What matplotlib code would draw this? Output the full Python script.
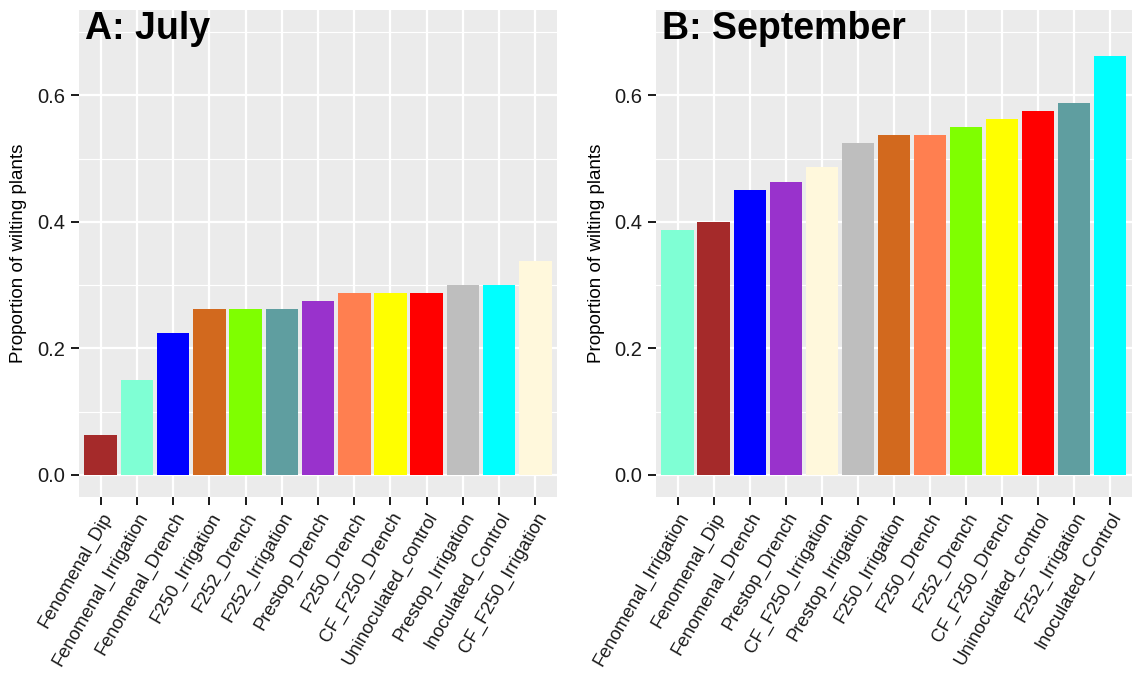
import matplotlib
matplotlib.use('Agg')
import matplotlib.pyplot as plt
import numpy as np

plt.rcParams['font.family'] = ['Liberation Sans', 'DejaVu Sans']

# July
july_names = ['Fenomenal_Dip', 'Fenomenal_Irrigation', 'Fenomenal_Drench', 'F250_Irrigation',
              'F252_Drench', 'F252_Irrigation', 'Prestop_Drench', 'F250_Drench', 'CF_F250_Drench',
              'Uninoculated_control', 'Prestop_Irrigation', 'Inoculated_Control', 'CF_F250_Irrigation']
july_vals = [0.0625, 0.15, 0.225, 0.2625, 0.2625, 0.2625, 0.275, 0.2875, 0.2875,
             0.2875, 0.3, 0.3, 0.3375]

# September
sept_names = ['Fenomenal_Irrigation', 'Fenomenal_Dip', 'Fenomenal_Drench', 'Prestop_Drench',
              'CF_F250_Irrigation', 'Prestop_Irrigation', 'F250_Irrigation', 'F250_Drench',
              'F252_Drench', 'CF_F250_Drench', 'Uninoculated_control', 'F252_Irrigation',
              'Inoculated_Control']
sept_vals = [0.3875, 0.4, 0.45, 0.4625, 0.4875, 0.525, 0.5375, 0.5375,
             0.55, 0.5625, 0.575, 0.5875, 0.6625]

colors = {
    'Fenomenal_Dip': '#A52A2A',
    'Fenomenal_Irrigation': '#7FFFD4',
    'Fenomenal_Drench': '#0000FF',
    'F250_Irrigation': '#D2691E',
    'F252_Drench': '#7FFF00',
    'F252_Irrigation': '#5F9EA0',
    'Prestop_Drench': '#9932CC',
    'F250_Drench': '#FF7F50',
    'CF_F250_Drench': '#FFFF00',
    'Uninoculated_control': '#FF0000',
    'Prestop_Irrigation': '#BEBEBE',
    'Inoculated_Control': '#00FFFF',
    'CF_F250_Irrigation': '#FFF8DC',
}

fig = plt.figure(figsize=(11.34, 6.75), dpi=100)
axA = fig.add_axes([0.0697, 0.2637, 0.4215, 0.7215])
axB = fig.add_axes([0.5785, 0.2637, 0.4195, 0.7215])


def panel(ax, names, vals, title):
    x = np.arange(len(names))
    ax.set_facecolor('#EBEBEB')
    for y in [0.1, 0.3, 0.5, 0.7]:
        ax.axhline(y, color='white', lw=0.8, zorder=0)
    for y in [0.0, 0.2, 0.4, 0.6]:
        ax.axhline(y, color='white', lw=1.6, zorder=0)
    for xi in x:
        ax.axvline(xi, color='white', lw=1.6, zorder=0)
    ax.bar(x, vals, width=0.9, color=[colors[n] for n in names], edgecolor='none', zorder=2)
    ax.set_xlim(-0.6, len(names) - 0.4)
    ax.set_ylim(-0.035, 0.735)
    ax.set_yticks([0.0, 0.2, 0.4, 0.6])
    ax.set_yticklabels(['0.0', '0.2', '0.4', '0.6'], fontsize=14.5, color='#1a1a1a')
    ax.set_xticks(x)
    ax.set_xticklabels(names, rotation=60, ha='right', rotation_mode='anchor',
                       fontsize=13.3, color='#1a1a1a')
    ax.tick_params(axis='both', length=6, width=1.4, color='#1a1a1a', pad=4)
    ax.tick_params(axis='x', pad=3)
    for s in ax.spines.values():
        s.set_visible(False)
    ax.set_ylabel('Proportion of wilting plants', fontsize=13.5)
    ax.yaxis.set_label_coords(-0.108, 0.5)
    ax.text(0.012, 0.998, title, transform=ax.transAxes, fontsize=27,
            fontweight='bold', va='top', ha='left', zorder=5)


panel(axA, july_names, july_vals, 'A: July')
panel(axB, sept_names, sept_vals, 'B: September')

fig.savefig('out.png', dpi=100)
